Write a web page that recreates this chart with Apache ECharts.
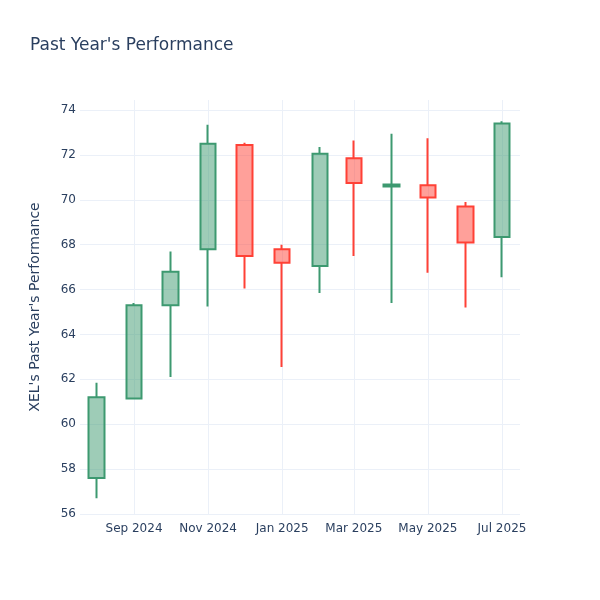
<!DOCTYPE html>
<html><head><meta charset="utf-8">
<script src="https://cdn.jsdelivr.net/npm/echarts@6/dist/echarts.min.js"></script>
<style>html,body{margin:0;padding:0;background:#fff}#c{width:600px;height:600px}</style>
</head><body><div id="c"></div>
<script>
const dates = ['2024-08-01','2024-09-01','2024-10-01','2024-11-01','2024-12-01','2025-01-01','2025-02-01','2025-03-01','2025-04-01','2025-05-01','2025-06-01','2025-07-01'];
const opens  = [57.6, 61.15, 65.3, 67.8, 72.45, 67.8, 67.05, 71.85, 70.6, 70.65, 69.7, 68.35];
const closes = [61.2, 65.3, 66.8, 72.5, 67.5, 67.2, 72.05, 70.75, 70.68, 70.1, 68.1, 73.4];
const lows   = [56.7, 61.1, 62.1, 65.25, 66.05, 62.55, 65.85, 67.5, 65.4, 66.75, 65.2, 66.55];
const highs  = [61.85, 65.4, 67.7, 73.35, 72.55, 68.0, 72.35, 72.65, 72.95, 72.75, 69.9, 73.5];
const xTicks = ['2024-09-01','2024-11-01','2025-01-01','2025-03-01','2025-05-01','2025-07-01'];
const monthNames = ['Jan','Feb','Mar','Apr','May','Jun','Jul','Aug','Sep','Oct','Nov','Dec'];

const ts = s => { const [y,m,d] = s.split('-').map(Number); return Date.UTC(y, m-1, d); };
const data = dates.map((d,i) => [ts(d), opens[i], closes[i], lows[i], highs[i]]);
const tickVals = xTicks.map(ts);
const textColor = '#2a3f5f';
const gridColor = '#EBF0F8';
const font = 'DejaVu Sans';

const chart = echarts.init(document.getElementById('c'), null, {renderer:'canvas'});
chart.setOption({
  animation: false,
  backgroundColor: '#fff',
  textStyle: {fontFamily: font},
  title: {
    text: "Past Year's Performance",
    left: 25, top: 32,
    textStyle: {fontFamily: font, fontSize: 17, fontWeight: 'normal', color: textColor}
  },
  grid: {left: 80, right: 80, top: 100, bottom: 86, containLabel: false},
  xAxis: {
    type: 'value',
    min: Date.UTC(2024, 6, 18, 12),
    max: Date.UTC(2025, 6, 15, 20),
    axisLine: {show: false},
    axisTick: {show: false, customValues: tickVals},
    axisLabel: {
      customValues: tickVals,
      color: textColor, fontFamily: font, fontSize: 12, margin: 9,
      formatter: v => { const d = new Date(v); return monthNames[d.getUTCMonth()] + ' ' + d.getUTCFullYear(); }
    },
    splitLine: {show: true, lineStyle: {color: gridColor, width: 1}}
  },
  yAxis: {
    type: 'value',
    min: 56, max: 74.45, interval: 2,
    name: "XEL's Past Year's Performance",
    nameLocation: 'middle',
    nameGap: 38,
    nameTextStyle: {color: textColor, fontFamily: font, fontSize: 14},
    axisLine: {show: false},
    axisTick: {show: false},
    axisLabel: {color: textColor, fontFamily: font, fontSize: 12, margin: 4, showMaxLabel: false,
      formatter: v => (Math.abs(v - Math.round(v)) < 1e-6 && Math.round(v) % 2 === 0) ? String(v) : ''},
    splitLine: {show: true, showMaxLine: false, lineStyle: {color: gridColor, width: 1}}
  },
  series: [{
    type: 'candlestick',
    dimensions: ['date','open','close','lowest','highest'],
    encode: {x: 0, y: [1,2,3,4]},
    barWidth: 16,
    itemStyle: {
      color: 'rgba(61,153,112,0.5)',
      color0: 'rgba(255,65,54,0.5)',
      borderColor: '#3D9970',
      borderColor0: '#FF4136',
      borderWidth: 2
    },
    data: data
  }]
});
</script></body></html>
